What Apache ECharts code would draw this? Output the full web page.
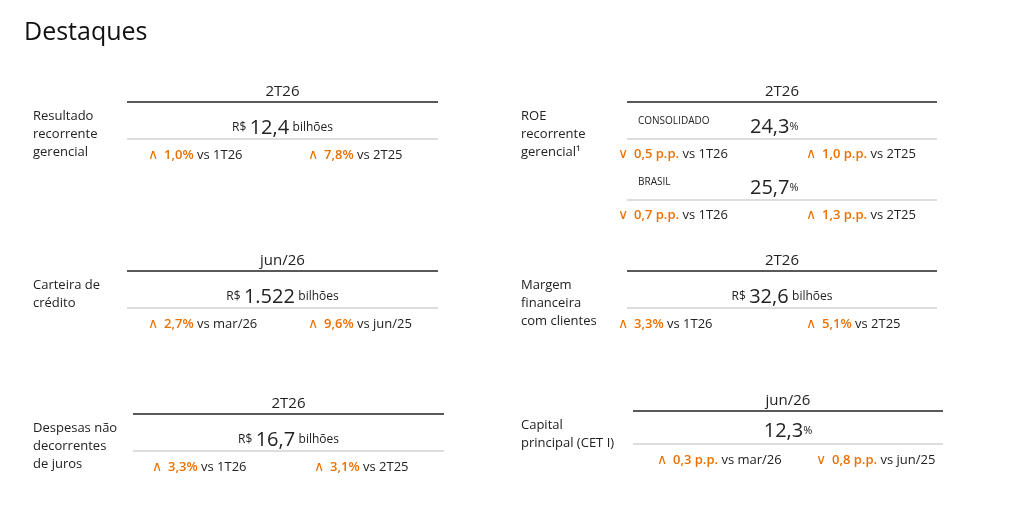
<!DOCTYPE html>
<html><head><meta charset="utf-8">
<script src="https://cdn.jsdelivr.net/npm/echarts@6/dist/echarts.min.js"></script>
<style>html,body{margin:0;background:#fff}#main{width:1024px;height:532px}</style>
</head><body><div id="main"></div>
<script>
// rótulos de cada bloco
const labels = [
  ['Resultado', 'recorrente', 'gerencial'],
  ['Carteira de', 'crédito'],
  ['Despesas não', 'decorrentes', 'de juros'],
  ['ROE', 'recorrente', 'gerencial¹'],
  ['Margem', 'financeira', 'com clientes'],
  ['Capital', 'principal (CET I)']
];
const periods = ['2T26', 'jun/26', '2T26', '2T26', '2T26', 'jun/26'];
const values = ['12,4', '1.522', '16,7', null, '32,6', '12,3'];
const prefixes = ['R$', 'R$', 'R$', null, 'R$', ''];
const units = ['bilhões', 'bilhões', 'bilhões', null, 'bilhões', '%'];
// variações: [direção, valor, base]
const changes = [
  [['up', '1,0%', 'vs 1T26'], ['up', '7,8%', 'vs 2T25']],
  [['up', '2,7%', 'vs mar/26'], ['up', '9,6%', 'vs jun/25']],
  [['up', '3,3%', 'vs 1T26'], ['up', '3,1%', 'vs 2T25']],
  null,
  [['up', '3,3%', 'vs 1T26'], ['up', '5,1%', 'vs 2T25']],
  [['up', '0,3 p.p.', 'vs mar/26'], ['down', '0,8 p.p.', 'vs jun/25']]
];
// ROE por segmento
const roeSegments = ['CONSOLIDADO', 'BRASIL'];
const roeValues = ['24,3', '25,7'];
const roeChanges = [
  [['down', '0,5 p.p.', 'vs 1T26'], ['up', '1,0 p.p.', 'vs 2T25']],
  [['down', '0,7 p.p.', 'vs 1T26'], ['up', '1,3 p.p.', 'vs 2T25']]
];

const FONT = '"Open Sans", "Noto Sans", sans-serif';
const DARK = '#222', ORANGE = '#ec7000', GRAY = '#bbb';
const rich = {
  ar: {fill: ORANGE, fontSize: 14, fontFamily: FONT, padding: [0, 6, 0, 0]},
  o: {fill: ORANGE, fontSize: 13, fontFamily: FONT, fontWeight: 600},
  d: {fill: DARK, fontSize: 13, fontFamily: FONT},
  s: {fill: DARK, fontSize: 12, fontFamily: FONT},
  b: {fill: DARK, fontSize: 20, fontFamily: FONT},
  p: {fill: DARK, fontSize: 11, fontFamily: FONT}
};
const els = [];
function txt(x, y, t, opt) {
  els.push({type: 'text', x: x, y: y, style: Object.assign({text: t, fill: DARK, fontSize: 13, fontFamily: FONT, rich: rich, verticalAlign: 'middle'}, opt || {})});
}
function line(x1, x2, y, w, c) {
  els.push({type: 'line', shape: {x1: x1, y1: y, x2: x2, y2: y}, style: {stroke: c, lineWidth: w}});
}
function change(x, y, c) {
  const arrow = c[0] === 'up' ? '∧' : '∨';
  txt(x, y, '{ar|' + arrow + '}{o|' + c[1] + '} {d|' + c[2] + '}');
}

// posição de cada bloco: x rótulo, x linha início, x linha fim, y cabeçalho, x variações
const layout = [
  [33, 127, 438, 92, [148, 308]],
  [33, 127, 438, 261, [148, 308]],
  [33, 133, 444, 404, [152, 314]],
  [521, 627, 937, 92, [618, 806]],
  [521, 627, 937, 261, [618, 806]],
  [521, 633, 943, 401, [657, 816]]
];

txt(24, 33, 'Destaques', {fontSize: 25, fill: '#111'});

layout.forEach(function (L, i) {
  const x0 = L[1], x1 = L[2], y = L[3], cx = (x0 + x1) / 2;
  labels[i].forEach(function (s, k) { txt(L[0], y + 24 + k * 18, s); });
  txt(cx, y, periods[i], {fontSize: 15, align: 'center'});
  line(x0, x1, y + 10, 1.6, '#222');
  if (i === 3) {
    roeSegments.forEach(function (seg, k) {
      const yy = y + 30 + k * 61;
      txt(x0 + 11, yy - 1, seg, {fontSize: 10});
      txt(750, yy + 5, '{b|' + roeValues[k] + '}{p|%}');
      line(x0, x1, yy + 17, 1, GRAY);
      change(L[4][0], yy + 32, roeChanges[k][0]);
      change(L[4][1], yy + 32, roeChanges[k][1]);
    });
    return;
  }
  const cap = i === 5;
  const vy = cap ? y + 30 : y + 36;
  const pre = prefixes[i] ? '{s|' + prefixes[i] + '} ' : '';
  const unit = cap ? '{p|' + units[i] + '}' : ' {s|' + units[i] + '}';
  txt(cx, vy, pre + '{b|' + values[i] + '}' + unit, {align: 'center'});
  const ly = cap ? y + 43 : y + 47;
  line(x0, x1, ly, 1, GRAY);
  change(L[4][0], ly + 16, changes[i][0]);
  change(L[4][1], ly + 16, changes[i][1]);
});

const chart = echarts.init(document.getElementById('main'));
chart.setOption({backgroundColor: '#fff', graphic: {elements: els}});
</script></body></html>
